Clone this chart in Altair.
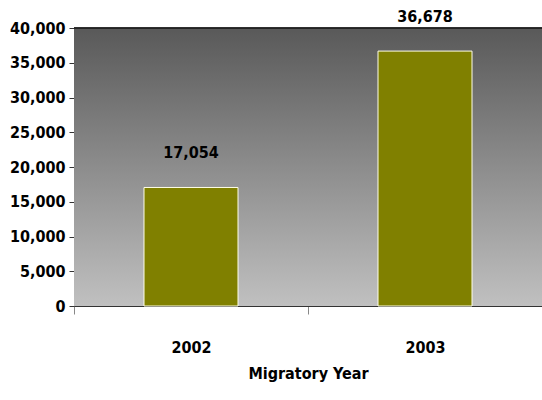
import altair as alt
import pandas as pd

years = ["2002", "2003"]
counts = [17054, 36678]
labels = ["17,054", "36,678"]

df = pd.DataFrame({"year": years, "count": counts, "label": labels})

W, H = 468, 278
FONT = "'DejaVu Sans Condensed', 'Liberation Sans', sans-serif"
FS = 16

x = alt.X("year:N", title="Migratory Year",
          scale=alt.Scale(paddingInner=0, paddingOuter=0),
          axis=alt.Axis(labelAngle=0, tickBand="extent", labelPadding=25,
                        titlePadding=10, domainColor="#333333", tickColor="#888888",
                        tickSize=8, labelFontSize=FS, titleFontSize=FS,
                        labelFont=FONT, titleFont=FONT, labelFontWeight="bold",
                        titleFontWeight="bold", labelColor="black", titleColor="black",
                        grid=False))
y = alt.Y("count:Q", title=None,
          scale=alt.Scale(domain=[0, 40000], nice=False),
          axis=alt.Axis(values=list(range(0, 40001, 5000)), format=",d",
                        labelOverlap=False,
                        domainColor="#333333", tickColor="#333333", tickSize=5,
                        labelPadding=4, labelFontSize=FS, labelFont=FONT,
                        labelFontWeight="bold", labelColor="black", grid=False))

bg = alt.Chart(df).mark_rect(
    color=alt.Gradient(gradient="linear", x1=0, x2=0, y1=0, y2=1,
                       stops=[alt.GradientStop(color="#595959", offset=0),
                              alt.GradientStop(color="#c0c0c0", offset=1)])
).encode(x=alt.value(0), x2=alt.value(W), y=alt.value(0), y2=alt.value(H))

top = alt.Chart(df).mark_rule(color="#222222", strokeWidth=1.5).encode(
    x=alt.value(0), x2=alt.value(W), y=alt.value(0))

bars = alt.Chart(df).mark_bar(size=94, color="#808000", stroke="#ffffe8",
                              strokeWidth=1).encode(x=x, y=y)

text = alt.Chart(df).mark_text(dy=-34, baseline="middle", fontSize=FS,
                               font=FONT, fontWeight="bold", color="black").encode(
    x=x, y=y, text="label:N")

chart = alt.layer(bg, top, bars, text).properties(
    width=W, height=H,
    padding={"left": 74, "top": 28, "right": 0, "bottom": 94},
    autosize=alt.AutoSizeParams(type="none"),
    background="white"
).configure_view(stroke=None)

chart.save("out.html", embed_options={"renderer": "svg", "actions": False})
